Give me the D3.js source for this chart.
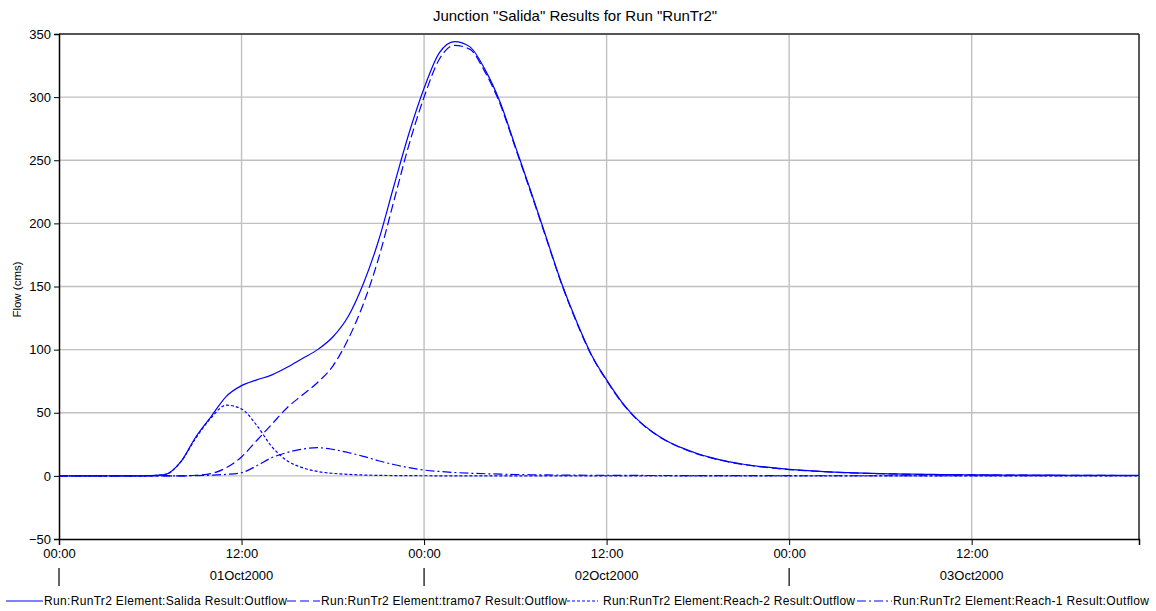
<!DOCTYPE html>
<html>
<head>
<meta charset="utf-8">
<script src="https://cdn.jsdelivr.net/npm/d3@7"></script>
<style>
  body { margin: 0; background: #fff; }
  svg { font-family: "Liberation Sans", Arial, sans-serif; }
</style>
</head>
<body>
<div id="chart"></div>
<script>

// hourly results, 01Oct2000 00:00 .. 03Oct2000 23:00
var startTime = Date.UTC(2000, 9, 1, 0);
var endTime = Date.UTC(2000, 9, 3, 23);

var salida = [0, 0, 0, 0, 0, 0, 0.2, 1.2, 11, 31, 47, 63, 71.5, 76, 80, 86, 93, 100, 110, 126,
  152, 186, 229, 271, 307, 335, 344, 340, 322, 296, 261, 226, 190, 154, 123, 96, 76, 58.5, 45, 35,
  27.5, 22, 17.5, 14, 11.3, 9.2, 7.6, 6.3, 5.2, 4.3, 3.6, 3.0, 2.5, 2.1, 1.8, 1.55, 1.35, 1.2, 1.05, 0.95,
  0.85, 0.78, 0.7, 0.65, 0.6, 0.55, 0.5, 0.5, 0.45, 0.45, 0.4, 0.4];

var tramo7 = [0, 0, 0, 0, 0, 0, 0, 0, 0, 0.5, 1.8, 6.5, 15, 28, 41, 54, 64, 74, 87, 108,
  136, 172, 217, 262, 300, 330, 341, 338, 320, 294.5, 259.9, 225.1, 189.2, 153.3, 122.4, 95.5, 75.5, 58.1, 44.6, 34.7,
  27.2, 21.7, 17.2, 13.8, 11.1, 9.0, 7.4, 6.1, 5.0, 4.2, 3.5, 2.9, 2.4, 2.0, 1.7, 1.45, 1.25, 1.1, 0.95, 0.85,
  0.75, 0.68, 0.6, 0.55, 0.5, 0.45, 0.4, 0.4, 0.35, 0.35, 0.3, 0.3];

var reach2 = [0, 0, 0, 0, 0, 0, 0.2, 1.2, 11, 30, 46, 56, 53, 40, 23, 12, 6.5, 3.5, 2, 1.2,
  0.7, 0.4, 0.25, 0.15, 0.1, 0.05, 0, 0, 0, 0, 0, 0, 0, 0, 0, 0, 0, 0, 0, 0,
  0, 0, 0, 0, 0, 0, 0, 0, 0, 0, 0, 0, 0, 0, 0, 0, 0, 0, 0, 0,
  0, 0, 0, 0, 0, 0, 0, 0, 0, 0, 0, 0];

var reach1 = [0, 0, 0, 0, 0, 0, 0, 0, 0, 0.2, 0.6, 1.2, 2.5, 8, 14.5, 18.5, 21.2, 22.3, 21, 18.5,
  15.5, 12, 9, 6.5, 4.6, 3.5, 2.7, 2.1, 1.7, 1.4, 1.1, 0.9, 0.75, 0.65, 0.55, 0.5, 0.45, 0.4, 0.35, 0.3,
  0.3, 0.25, 0.25, 0.2, 0.2, 0.2, 0.15, 0.15, 0.15, 0.1, 0.1, 0.1, 0.1, 0.1, 0.1, 0.1, 0.1, 0.1, 0.1, 0.1,
  0.1, 0.1, 0.1, 0.1, 0.1, 0.1, 0.1, 0.1, 0.1, 0.1, 0.1, 0.1];

var seriesNames = [
  "Run:RunTr2 Element:Salida Result:Outflow",
  "Run:RunTr2 Element:tramo7 Result:Outflow",
  "Run:RunTr2 Element:Reach-2 Result:Outflow",
  "Run:RunTr2 Element:Reach-1 Result:Outflow"
];
var seriesValues = [salida, tramo7, reach2, reach1];
var seriesDash = [null, "9,4", "3,2", "9,3,2,3"];

var yTicks = [-50, 0, 50, 100, 150, 200, 250, 300, 350];
var dayLabels = ["01Oct2000", "02Oct2000", "03Oct2000"];

var width = 1156, height = 611;
var margin = { top: 34, right: 17, bottom: 72, left: 59 };

var svg = d3.select("#chart").append("svg")
    .attr("width", width)
    .attr("height", height);

var x = d3.scaleUtc()
    .domain([startTime, endTime])
    .range([margin.left, width - margin.right]);

var y = d3.scaleLinear()
    .domain([-50, 350])
    .range([height - margin.bottom, margin.top]);

var hourMs = 3600 * 1000;
var gridTimes = d3.utcHour.every(12).range(new Date(startTime), new Date(endTime + 1));

// grid
svg.append("g")
    .selectAll("line")
    .data(yTicks.slice(1, -1))
    .enter().append("line")
    .attr("x1", margin.left).attr("x2", width - margin.right)
    .attr("y1", function (d) { return y(d); })
    .attr("y2", function (d) { return y(d); })
    .attr("stroke", "#c0c0c0")
    .attr("stroke-width", 1.4);

svg.append("g")
    .selectAll("line")
    .data(gridTimes.slice(1))
    .enter().append("line")
    .attr("x1", function (d) { return x(d); })
    .attr("x2", function (d) { return x(d); })
    .attr("y1", margin.top).attr("y2", height - margin.bottom)
    .attr("stroke", "#c0c0c0")
    .attr("stroke-width", 1.4);

// frame
svg.append("line")
    .attr("x1", margin.left).attr("x2", width - margin.right)
    .attr("y1", margin.top).attr("y2", margin.top)
    .attr("stroke", "#555").attr("stroke-width", 2);
svg.append("line")
    .attr("x1", width - margin.right).attr("x2", width - margin.right)
    .attr("y1", margin.top).attr("y2", height - margin.bottom)
    .attr("stroke", "#222").attr("stroke-width", 1.5);

// series
var line = d3.line()
    .x(function (d, i) { return x(startTime + i * hourMs); })
    .y(function (d) { return y(d); })
    .curve(d3.curveMonotoneX);

svg.append("g")
    .selectAll("path")
    .data(seriesValues)
    .enter().append("path")
    .attr("d", function (d) { return line(d); })
    .attr("fill", "none")
    .attr("stroke", "#0000ff")
    .attr("stroke-width", 1.2)
    .attr("stroke-dasharray", function (d, i) { return seriesDash[i]; });

// y axis
var yAxis = svg.append("g")
    .attr("transform", "translate(" + margin.left + ",0)")
    .call(d3.axisLeft(y).tickValues(yTicks).tickSize(5).tickPadding(3));
yAxis.select(".domain").attr("stroke", "#000").attr("stroke-width", 1.5);
yAxis.selectAll("text").attr("font-size", 13).attr("fill", "#000")
    .attr("font-family", "Liberation Sans, Arial, sans-serif");

// x axis
var xAxis = svg.append("g")
    .attr("transform", "translate(0," + (height - margin.bottom) + ")")
    .call(d3.axisBottom(x).tickValues(gridTimes).tickSize(6).tickPadding(4)
        .tickFormat(d3.utcFormat("%H:%M")));
xAxis.select(".domain").attr("stroke", "#000").attr("stroke-width", 1.5);
xAxis.selectAll("text").attr("font-size", 13).attr("fill", "#000")
    .attr("font-family", "Liberation Sans, Arial, sans-serif");

// day marks
var dayStarts = d3.utcDay.range(new Date(startTime), new Date(endTime));
svg.append("g")
    .selectAll("line")
    .data(dayStarts)
    .enter().append("line")
    .attr("x1", function (d) { return x(d); })
    .attr("x2", function (d) { return x(d); })
    .attr("y1", 568).attr("y2", 586)
    .attr("stroke", "#000").attr("stroke-width", 1.2);

svg.append("g")
    .selectAll("text")
    .data(dayLabels)
    .enter().append("text")
    .attr("x", function (d, i) { return x(+dayStarts[i] + 12 * hourMs); })
    .attr("y", 580)
    .attr("text-anchor", "middle")
    .attr("font-size", 13)
    .text(function (d) { return d; });

// title and axis label
svg.append("text")
    .attr("x", 575)
    .attr("y", 21)
    .attr("text-anchor", "middle")
    .attr("font-size", 15)
    .text('Junction "Salida" Results for Run "RunTr2"');

svg.append("text")
    .attr("transform", "translate(21," + ((margin.top + height - margin.bottom) / 2 + 3) + ") rotate(-90)")
    .attr("text-anchor", "middle")
    .attr("font-size", 11.5)
    .text("Flow (cms)");

// legend
var legendX = [6, 287, 567, 857];
var legendLen = [37, 33, 31, 35];
var legendTextLen = [243, 246, 252, 256];
var legend = svg.append("g")
    .selectAll("g")
    .data(seriesNames)
    .enter().append("g")
    .attr("transform", function (d, i) { return "translate(" + legendX[i] + ",601)"; });

legend.append("line")
    .attr("x1", 0)
    .attr("x2", function (d, i) { return legendLen[i]; })
    .attr("stroke", "#0000ff")
    .attr("stroke-width", 1.2)
    .attr("stroke-dasharray", function (d, i) { return seriesDash[i]; });

legend.append("text")
    .attr("x", function (d, i) { return legendLen[i] + (i == 2 ? 5 : 1); })
    .attr("y", 4)
    .attr("font-size", 12)
    .attr("textLength", function (d, i) { return legendTextLen[i]; })
    .attr("lengthAdjust", "spacing")
    .text(function (d) { return d; });

</script>
</body>
</html>
